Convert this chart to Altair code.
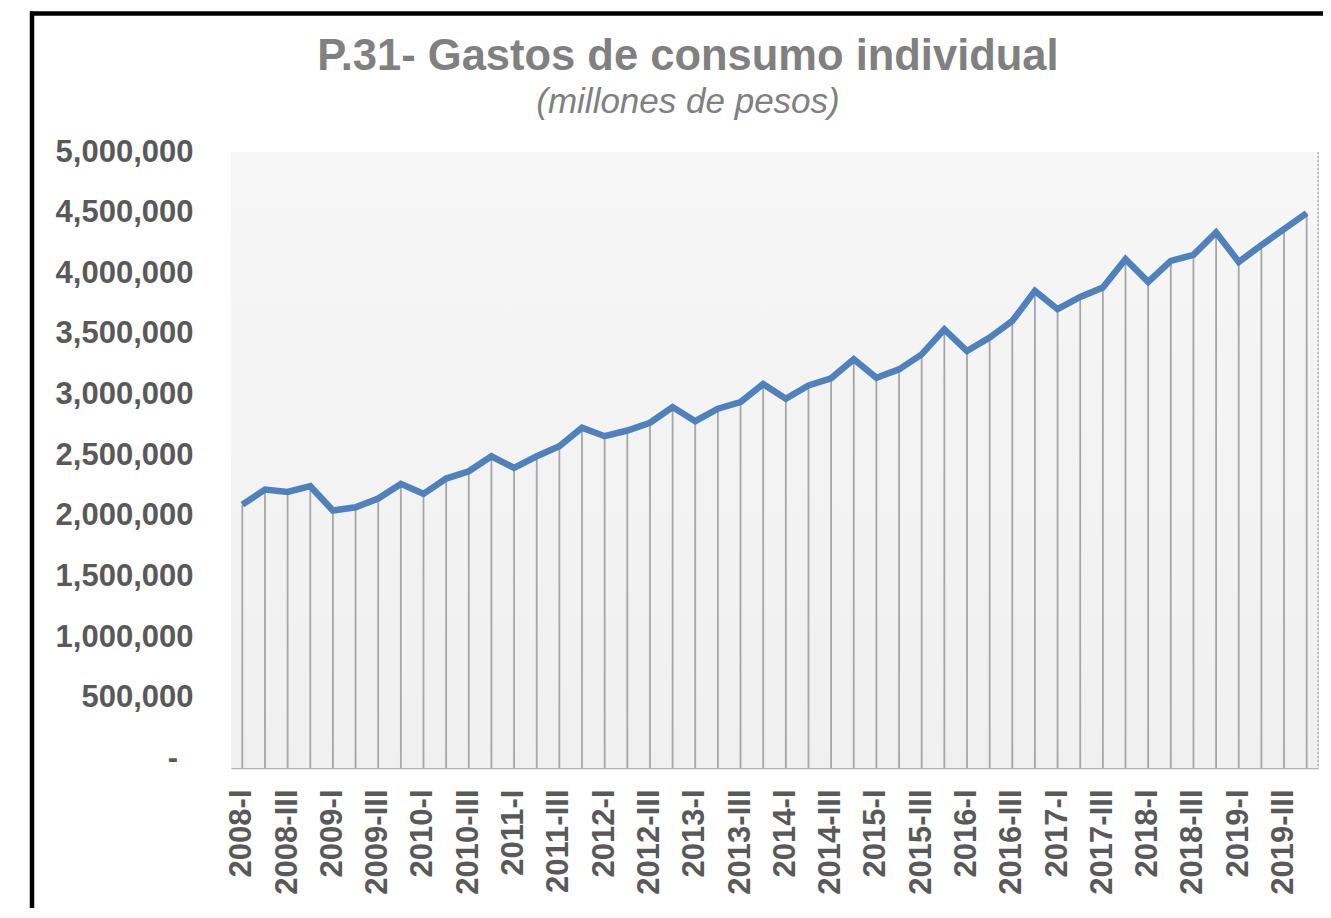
import altair as alt
import pandas as pd

years = list(range(2008, 2020))
quarters = ["I", "II", "III", "IV"]
periods = [f"{y}-{q}" for y in years for q in quarters]

values = [
    2093000, 2217000, 2198000, 2245000,
    2044000, 2071000, 2143000, 2264000,
    2182000, 2308000, 2368000, 2492000,
    2396000, 2492000, 2575000, 2727000,
    2657000, 2704000, 2768000, 2897000,
    2781000, 2884000, 2938000, 3087000,
    2966000, 3076000, 3134000, 3291000,
    3139000, 3208000, 3332000, 3538000,
    3359000, 3470000, 3607000, 3855000,
    3704000, 3805000, 3883000, 4116000,
    3929000, 4102000, 4152000, 4337000,
    4094000, 4232000, 4364000, 4496000,
]

title_text = "P.31- Gastos de consumo individual"
subtitle_text = "(millones de pesos)"

tick_labels = [p for p in periods if p.endswith("-I") or p.endswith("-III")]
y_ticks = list(range(0, 5000001, 500000))
y_domain = [-78000, 5000000]

df = pd.DataFrame({"periodo": periods, "valor": values})

W, H = 1087, 616
FONT = "Liberation Sans"
LABEL_COLOR = "#595959"

x_enc = alt.X(
    "periodo:O",
    sort=periods,
    title=None,
    axis=alt.Axis(
        values=tick_labels,
        labelAngle=-90,
        labelFont=FONT,
        labelFontSize=31,
        labelFontWeight="bold",
        labelColor=LABEL_COLOR,
        labelPadding=21,
        ticks=False,
        tickSize=0,
        domainColor="#b3b3b3",
        domainWidth=1.5,
        grid=False,
    ),
)
y_scale = alt.Scale(domain=y_domain, nice=False, zero=False)
y_enc = alt.Y(
    "valor:Q",
    title=None,
    scale=y_scale,
    axis=alt.Axis(
        values=y_ticks,
        labelExpr="datum.value == 0 ? '' : format(datum.value, ',')",
        labelFont=FONT,
        labelFontSize=31,
        labelFontWeight="bold",
        labelColor=LABEL_COLOR,
        labelPadding=38,
        ticks=False,
        domain=False,
        grid=False,
    ),
)

one = alt.Data(values=[{}])

background = alt.Chart(one).mark_rect(
    fill=alt.LinearGradient(
        gradient="linear",
        stops=[
            alt.GradientStop(offset=0, color="#f6f6f6"),
            alt.GradientStop(offset=1, color="#f0f0f0"),
        ],
        x1=0, x2=0, y1=0, y2=1,
    )
).encode(x=alt.value(0), x2=alt.value(W), y=alt.value(0), y2=alt.value(H))

right_border = alt.Chart(one).mark_rule(
    color="#9a9a9a", strokeWidth=1, strokeDash=[2, 2]
).encode(x=alt.value(W), y=alt.value(0), y2=alt.value(H))

frame_left = alt.Chart(one).mark_rule(color="black", strokeWidth=4.5).encode(
    x=alt.value(-199), y=alt.value(-140.5), y2=alt.value(760)
)
frame_top = alt.Chart(one).mark_rule(color="black", strokeWidth=4.5).encode(
    x=alt.value(-201), x2=alt.value(1100), y=alt.value(-138.5)
)

title_mark = alt.Chart(alt.Data(values=[{"t": title_text}])).mark_text(
    font=FONT, fontSize=43.5, fontWeight="bold", color="#808080",
    align="center", baseline="alphabetic",
).encode(text="t:N", x=alt.value(457), y=alt.value(-82))

subtitle_mark = alt.Chart(alt.Data(values=[{"t": subtitle_text}])).mark_text(
    font=FONT, fontSize=35, fontStyle="italic", color="#808080",
    align="center", baseline="alphabetic",
).encode(text="t:N", x=alt.value(457), y=alt.value(-39))

# zero label of the y axis shown as a dash (accounting style)
zero_label = alt.Chart(alt.Data(values=[{"t": "-"}])).mark_text(
    font=FONT, fontSize=31, fontWeight="bold", color=LABEL_COLOR,
    align="center", baseline="middle",
).encode(text="t:N", x=alt.value(-58), y=alt.datum(0, scale=y_scale))

drops = alt.Chart(df).mark_rule(color="#a6a6a6", strokeWidth=1.8).encode(
    x=x_enc, y=y_enc, y2=alt.value(H)
)

line = alt.Chart(df).mark_line(color="#4f81bd", strokeWidth=6.5).encode(
    x=x_enc, y=y_enc
)

chart = (
    alt.layer(
        background, right_border, drops, line,
        frame_left, frame_top, title_mark, subtitle_mark, zero_label,
    )
    .properties(
        width=W,
        height=H,
        autosize=alt.AutoSizeParams(type="none"),
        padding={"left": 223, "top": 144, "right": 5, "bottom": 140},
    )
    .configure_view(stroke=None)
    .configure(background="white")
)

chart.save("out.html", embed_options={"renderer": "svg", "actions": False})
